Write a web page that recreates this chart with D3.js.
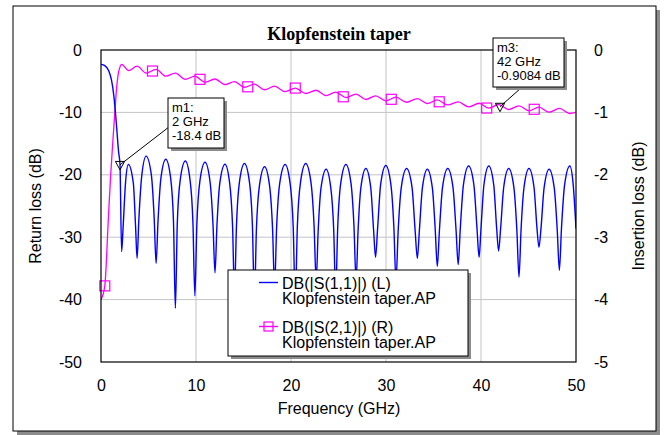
<!DOCTYPE html>
<html>
<head>
<meta charset="utf-8">
<script src="https://cdn.jsdelivr.net/npm/d3@7"></script>
<style>
body { margin: 0; background: #fff; }
svg { display: block; }
</style>
</head>
<body>
<script>
// chart text
let chartTitle = "Klopfenstein taper";
let xTitle = "Frequency (GHz)";
let leftTitle = "Return loss (dB)";
let rightTitle = "Insertion loss (dB)";

// ticks
let xTicks = [0, 10, 20, 30, 40, 50];
let leftTicks = [0, -10, -20, -30, -40, -50];
let rightTicks = [0, -1, -2, -3, -4, -5];

// DB(|S(1,1)|), left axis
let s11Freq = [
    0, 0.4, 0.8, 1.1, 1.35, 1.6, 1.85, 2.0, 2.17,
    2.33, 2.58, 2.88, 3.40, 3.64, 3.80,
    3.99, 4.30, 4.75, 5.30, 5.60, 5.80,
    6.00, 6.31, 6.82, 7.33, 7.63, 7.83,
    8.03, 8.34, 8.88, 9.37, 9.68, 9.88,
    10.09, 10.41, 10.95, 11.47, 11.79, 12.00,
    12.20, 12.51, 13.05, 13.54, 13.85, 14.05,
    14.26, 14.57, 15.10, 15.63, 15.94, 16.15,
    16.36, 16.68, 17.22, 17.74, 18.06, 18.27,
    18.49, 18.82, 19.38, 19.90, 20.23, 20.45,
    20.67, 21.00, 21.55, 22.10, 22.43, 22.65,
    22.86, 23.16, 23.70, 24.19, 24.50, 24.70,
    24.92, 25.24, 25.78, 26.31, 26.63, 26.85,
    27.06, 27.36, 27.88, 28.39, 28.70, 28.90,
    29.12, 29.44, 29.98, 30.51, 30.83, 31.05,
    31.28, 31.61, 32.17, 32.74, 33.07, 33.30,
    33.51, 33.83, 34.35, 34.88, 35.19, 35.40,
    35.62, 35.95, 36.50, 37.05, 37.38, 37.60,
    37.82, 38.15, 38.70, 39.25, 39.58, 39.80,
    40.00, 40.31, 40.82, 41.34, 41.65, 41.85,
    42.07, 42.39, 42.92, 43.46, 43.78, 44.00,
    44.21, 44.53, 45.05, 45.58, 45.89, 46.10,
    46.32, 46.64, 47.17, 47.71, 48.03, 48.25,
    48.47, 48.80, 49.35, 49.70, 50.00
];
let s11Db = [
    -2.3, -2.5, -3.3, -4.8, -7.3, -11.5, -16.3, -18.4, -32.3,
    -28.3, -21.3, -18.35, -21.3, -28.3, -33.4,
    -27.0, -20.0, -17.0, -20.0, -27.0, -34.2,
    -27.5, -20.5, -17.5, -20.5, -27.5, -41.4,
    -27.8, -20.8, -17.8, -20.8, -27.8, -39.4,
    -28.0, -21.0, -18.0, -21.0, -28.0, -35.7,
    -28.3, -21.3, -18.3, -21.3, -28.3, -39.0,
    -28.2, -21.2, -18.2, -21.2, -28.2, -40.0,
    -28.7, -21.7, -18.7, -21.7, -28.7, -38.0,
    -28.3, -21.3, -18.35, -21.3, -28.3, -40.0,
    -28.2, -21.2, -18.2, -21.2, -28.2, -37.0,
    -29.0, -22.1, -19.1, -22.1, -29.0, -39.0,
    -28.3, -21.3, -18.35, -21.3, -28.3, -37.0,
    -29.0, -22.0, -19.0, -22.0, -29.0, -33.2,
    -28.5, -21.5, -18.5, -21.5, -28.5, -37.0,
    -29.0, -22.0, -19.0, -22.0, -29.0, -33.4,
    -29.0, -22.1, -19.1, -22.1, -29.0, -34.7,
    -29.0, -22.0, -19.0, -22.0, -29.0, -34.4,
    -28.6, -21.6, -18.6, -21.6, -28.6, -33.2,
    -28.6, -21.6, -18.6, -21.6, -28.6, -32.2,
    -28.5, -22.0, -19.0, -22.0, -29.0, -36.4,
    -29.0, -22.0, -19.0, -22.0, -28.5, -31.6,
    -28.5, -22.1, -19.1, -22.1, -29.0, -35.3,
    -28.6, -21.6, -18.6, -21.5, -28.6
];

// DB(|S(2,1)|), right axis
let s21Freq = [
    0, 0.4, 0.75, 1.0, 1.27, 1.5, 1.62, 1.8, 2.0, 2.17,
    2.9, 3.8, 4.75, 5.8, 6.82, 7.83, 8.88, 9.88, 10.95, 12.0,
    13.05, 14.05, 15.1, 16.15, 17.22, 18.27, 19.38, 20.45, 21.55, 22.65,
    23.7, 24.7, 25.78, 26.85, 27.88, 28.9, 29.98, 31.05, 32.17, 33.3,
    34.35, 35.4, 36.5, 37.6, 38.7, 39.8, 40.82, 41.85, 42.92, 44.0,
    45.05, 46.1, 47.17, 48.25, 49.35, 50
];
let s21Db = [
    -4.0, -3.78, -2.78, -2.05, -1.41, -0.9, -0.65, -0.4, -0.27, -0.23,
    -0.33, -0.26, -0.37, -0.31, -0.42, -0.37, -0.47, -0.42, -0.515, -0.465,
    -0.556, -0.506, -0.597, -0.548, -0.637, -0.58, -0.667, -0.612, -0.697, -0.645,
    -0.73, -0.675, -0.762, -0.708, -0.793, -0.734, -0.815, -0.755, -0.837, -0.778,
    -0.859, -0.8, -0.881, -0.83, -0.913, -0.853, -0.933, -0.873, -0.954, -0.895,
    -0.975, -0.916, -0.997, -0.937, -1.018, -1.0
];
let s21MarkFreq = [0.4, 5.42, 10.42, 15.45, 20.45, 25.5, 30.55, 35.6, 40.6, 45.6];
let s21MarkDb = [-3.78, -0.337, -0.47, -0.59, -0.61, -0.75, -0.79, -0.83, -0.93, -0.95];

// markers
let markerNames = ["m1:", "m3:"];
let markerFreq = [2, 42];
let markerDb = [-18.4, -0.9084];
let markerAxis = ["L", "R"];
let markerLabels = [["2 GHz", "-18.4 dB"], ["42 GHz", "-0.9084 dB"]];

// legend
let legendNames = ["DB(|S(1,1)|) (L)", "DB(|S(2,1)|) (R)"];
let legendSource = "Klopfenstein taper.AP";

var blue = "#0000ff";
var magenta = "#ff00ff";
var sansFont = "'Liberation Sans', Arial, sans-serif";

var W = 664, H = 435;
var plotLeft = 101, plotTop = 50, plotW = 475, plotH = 312;

var svg = d3.select("body").append("svg")
    .attr("width", W)
    .attr("height", H);

// outer frame with shadow
svg.append("rect").attr("x", 17).attr("y", 10).attr("width", 643).attr("height", 425).style("fill", "#8c8c8c");
svg.append("rect").attr("x", 13).attr("y", 6).attr("width", 643).attr("height", 425)
    .style("fill", "white").style("stroke", "black").style("stroke-width", "1px");

var x = d3.scaleLinear().domain([0, 50]).range([plotLeft, plotLeft + plotW]);
var yL = d3.scaleLinear().domain([-50, 0]).range([plotTop + plotH, plotTop]);
var yR = d3.scaleLinear().domain([-5, 0]).range([plotTop + plotH, plotTop]);

// grid
svg.append("g")
    .selectAll("line")
    .data(xTicks.slice(1, -1))
    .enter().append("line")
    .attr("x1", function(d) { return x(d); })
    .attr("x2", function(d) { return x(d); })
    .attr("y1", plotTop)
    .attr("y2", plotTop + plotH)
    .style("stroke", "#c4c4c4")
    .style("stroke-width", "1px");

svg.append("g")
    .selectAll("line")
    .data(leftTicks.slice(1, -1))
    .enter().append("line")
    .attr("x1", plotLeft)
    .attr("x2", plotLeft + plotW)
    .attr("y1", function(d) { return yL(d); })
    .attr("y2", function(d) { return yL(d); })
    .style("stroke", "#c4c4c4")
    .style("stroke-width", "1px");

// axes (labels only)
function plainNumber(d) { return String(d); }

function styleAxis(g) {
    g.select(".domain").remove();
    g.attr("font-family", sansFont).attr("font-size", 16);
    g.selectAll("text").style("fill", "black");
}

svg.append("g")
    .attr("transform", "translate(" + plotLeft + ",0)")
    .call(d3.axisLeft(yL).tickValues(leftTicks).tickFormat(plainNumber).tickSize(0).tickPadding(19))
    .call(styleAxis);

svg.append("g")
    .attr("transform", "translate(" + (plotLeft + plotW) + ",0)")
    .call(d3.axisRight(yR).tickValues(rightTicks).tickFormat(plainNumber).tickSize(0).tickPadding(18))
    .call(styleAxis);

svg.append("g")
    .attr("transform", "translate(0," + (plotTop + plotH) + ")")
    .call(d3.axisBottom(x).tickValues(xTicks).tickFormat(plainNumber).tickSize(0).tickPadding(18))
    .call(styleAxis);

// titles
svg.append("text")
    .attr("x", 339).attr("y", 40)
    .attr("text-anchor", "middle")
    .style("font-family", "'Liberation Serif', 'Times New Roman', serif")
    .style("font-weight", "bold")
    .style("font-size", "18px")
    .text(chartTitle);

svg.append("text")
    .attr("x", 339).attr("y", 414)
    .attr("text-anchor", "middle")
    .style("font-family", sansFont).style("font-size", "16px")
    .text(xTitle);

svg.append("text")
    .attr("transform", "translate(41," + (plotTop + plotH / 2) + ") rotate(-90)")
    .attr("text-anchor", "middle")
    .style("font-family", sansFont).style("font-size", "16px")
    .text(leftTitle);

svg.append("text")
    .attr("transform", "translate(644," + (plotTop + plotH / 2) + ") rotate(-90)")
    .attr("text-anchor", "middle")
    .style("font-family", sansFont).style("font-size", "16px")
    .text(rightTitle);

// traces
var s11 = s11Freq.map(function(f, i) { return {f: f, v: s11Db[i]}; });
var s21 = s21Freq.map(function(f, i) { return {f: f, v: s21Db[i]}; });

var plot = svg.append("g");
plot.append("clipPath").attr("id", "clip")
    .append("rect").attr("x", plotLeft).attr("y", plotTop).attr("width", plotW).attr("height", plotH);

plot.append("path")
    .datum(s21)
    .attr("clip-path", "url(#clip)")
    .attr("d", d3.line().curve(d3.curveMonotoneX)
        .x(function(d) { return x(d.f); })
        .y(function(d) { return yR(d.v); }))
    .style("fill", "none")
    .style("stroke", magenta)
    .style("stroke-width", "1.3px");

plot.append("path")
    .datum(s11)
    .attr("clip-path", "url(#clip)")
    .attr("d", d3.line().curve(d3.curveMonotoneX)
        .x(function(d) { return x(d.f); })
        .y(function(d) { return yL(d.v); }))
    .style("fill", "none")
    .style("stroke", blue)
    .style("stroke-width", "1.4px");

plot.append("g")
    .selectAll("rect")
    .data(s21MarkFreq)
    .enter().append("rect")
    .attr("x", function(d) { return x(d) - 5; })
    .attr("y", function(d, i) { return yR(s21MarkDb[i]) - 5; })
    .attr("width", 10)
    .attr("height", 10)
    .style("fill", "none")
    .style("stroke", magenta)
    .style("stroke-width", "1.2px");

// plot frame
svg.append("rect")
    .attr("x", plotLeft).attr("y", plotTop).attr("width", plotW).attr("height", plotH)
    .style("fill", "none").style("stroke", "black").style("stroke-width", "1.2px");

// legend
var legend = svg.append("g");
legend.append("rect").attr("x", 231).attr("y", 273).attr("width", 240).attr("height", 86).style("fill", "#8c8c8c");
legend.append("rect").attr("x", 228).attr("y", 270).attr("width", 240).attr("height", 86)
    .style("fill", "white").style("stroke", "black").style("stroke-width", "1px");

var legendRows = legend.selectAll("g.row")
    .data(legendNames)
    .enter().append("g")
    .attr("class", "row")
    .attr("transform", function(d, i) { return "translate(0," + (i * 44) + ")"; });

legendRows.append("line")
    .attr("x1", 259).attr("x2", 278)
    .attr("y1", 282.5).attr("y2", 282.5)
    .style("stroke", function(d, i) { return i == 0 ? blue : magenta; })
    .style("stroke-width", "1.4px");

legendRows.filter(function(d, i) { return i == 1; })
    .append("rect")
    .attr("x", 264).attr("y", 278).attr("width", 9).attr("height", 9)
    .style("fill", "none").style("stroke", magenta).style("stroke-width", "1.2px");

legendRows.append("text")
    .attr("x", 282).attr("y", 288.5)
    .style("font-family", sansFont).style("font-size", "16px")
    .text(function(d) { return d; });

legendRows.append("text")
    .attr("x", 282).attr("y", 304)
    .style("font-family", sansFont).style("font-size", "16px")
    .text(legendSource);

// markers with callout boxes
var markerBoxes = [
    {x: 168, y: 98, w: 56, h: 50, lx: 178, ly: 120},
    {x: 493, y: 38, w: 71, h: 49, lx: 530, ly: 80}
];

markerNames.forEach(function(name, i) {
    var px = x(markerFreq[i]);
    var py = markerAxis[i] == "L" ? yL(markerDb[i]) : yR(markerDb[i]);
    var b = markerBoxes[i];
    var g = svg.append("g");

    g.append("line")
        .attr("x1", px).attr("y1", py)
        .attr("x2", b.lx).attr("y2", b.ly)
        .style("stroke", "black").style("stroke-width", "1px");

    g.append("path")
        .attr("d", "M" + (px - 4.6) + "," + (py - 3.4) + "L" + (px + 4.6) + "," + (py - 3.4) + "L" + px + "," + (py + 5) + "Z")
        .style("fill", "none").style("stroke", "black").style("stroke-width", "1px");

    g.append("rect").attr("x", b.x + 3).attr("y", b.y + 3).attr("width", b.w).attr("height", b.h).style("fill", "#8c8c8c");
    g.append("rect").attr("x", b.x).attr("y", b.y).attr("width", b.w).attr("height", b.h)
        .style("fill", "white").style("stroke", "black").style("stroke-width", "1px");

    var lines = [name].concat(markerLabels[i]);
    g.selectAll("text")
        .data(lines)
        .enter().append("text")
        .attr("x", b.x + 4)
        .attr("y", function(d, j) { return b.y + 14 + j * 14; })
        .style("font-family", sansFont).style("font-size", "13px")
        .text(function(d) { return d; });
});
</script>
</body>
</html>
